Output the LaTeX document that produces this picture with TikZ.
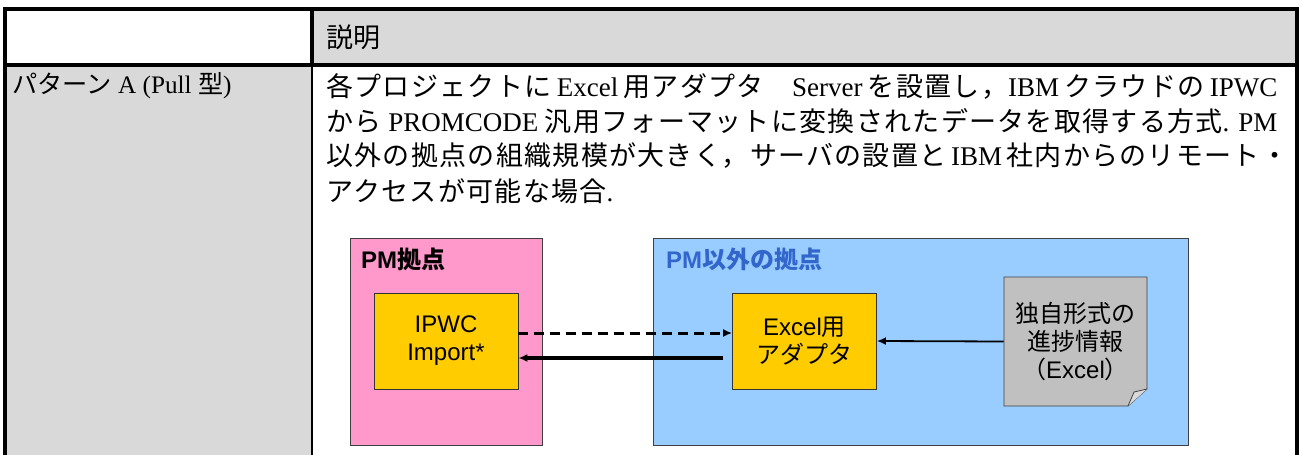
\documentclass[tikz,border=0pt]{standalone}
\usepackage{fontspec}
\setmainfont{Liberation Serif}
\setsansfont{Liberation Sans}
\newfontfamily\jp{Noto Sans CJK JP}
\newfontfamily\jpbody{Noto Sans CJK JP}[LetterSpace=4.8]
\usetikzlibrary{arrows.meta}
\tikzset{>=latex}
\usepackage{xcolor}
\definecolor{pmpink}{HTML}{FF99CC}
\definecolor{siteblue}{HTML}{99CCFF}
\definecolor{tooly}{HTML}{FFCC00}
\definecolor{docgray}{HTML}{C0C0C0}
\definecolor{cellgray}{HTML}{D9D9D9}
\definecolor{labelblue}{HTML}{3366CC}
\newcommand{\ja}[1]{{\jp #1}}
\newcommand{\jb}[1]{{\jpbody #1}}
\newlength{\bodyw}
\setlength{\bodyw}{475.5pt}
\tikzstyle{site}=[draw=black!75,thin,minimum height=103.5pt,inner sep=0]
\tikzstyle{site pm}=[site,fill=pmpink,minimum width=96pt]
\tikzstyle{site other}=[site,fill=siteblue,minimum width=267.5pt]
\tikzstyle{tool}=[draw=black!80,fill=tooly,minimum width=72pt,minimum height=48pt,inner sep=0,align=center,font=\sffamily\fontsize{12}{14}\selectfont]
\tikzstyle{site label}=[anchor=west,inner sep=0,font=\sffamily\bfseries\fontsize{12}{14}\selectfont]
\tikzstyle{body line}=[anchor=west,inner sep=0,font=\fontsize{13.5}{16}\selectfont]
\tikzstyle{connect}=[-{Latex[length=4.5pt,width=4pt]}]

\begin{document}
\begin{tikzpicture}[x=0.5pt,y=-0.5pt]
    \useasboundingbox (0,0) rectangle (1301,455);
    % TABLE CELLS
    \fill[white] (0,0) rectangle (1301,455);
    \fill[cellgray] (312,9) rectangle (1297,65);
    \fill[cellgray] (5,65) rectangle (312,455);
    \draw[line width=2pt] (5,455) -- (5,9) -- (1297,9) -- (1297,455);
    \draw[line width=1.6pt] (5,65) -- (1297,65);
    \draw[line width=1.6pt] (312,9) -- (312,65);
    \draw[line width=1pt] (312,65) -- (312,455);

    % TABLE TEXT
    \node[body line] (head) at (326,37) {\ja{説明}};
    \node[body line,font=\fontsize{12.6}{15}\selectfont] (pattern) at (12,86) {\ja{パターン} A (Pull \ja{型})};
    \node[body line] (line1) at (326,86) {\makebox[\bodyw][s]{\jb{各プロジェクトに} Excel \jb{用アダプタ　}Server \jb{を設置し，}IBM \jb{クラウドの} IPWC}};
    \node[body line] (line2) at (326,121) {\makebox[\bodyw][s]{\jb{から} PROMCODE \jb{汎用フォーマットに変換されたデータを取得する方式}. PM}};
    \node[body line] (line3) at (326,156) {\makebox[\bodyw][s]{\jb{以外の拠点の組織規模が大きく，サーバの設置と} IBM \jb{社内からのリモート・}}};
    \node[body line] (line4) at (326,191) {\jb{アクセスが可能な場合}.};

    % SITES
    \node[site pm] (pm) at (446,341.5) {};
    \node[site other] (other) at (920.5,341.5) {};
    \node[site label] at ([xshift=5.5pt,yshift=-11pt]pm.north west) {PM\ja{拠点}};
    \node[site label,labelblue] at ([xshift=6.5pt,yshift=-11pt]other.north west) {PM\ja{以外の拠点}};

    % TOOLS
    \node[tool] (ipwc) at (446,341) {IPWC\\Import*};
    \node[tool] (excel) at (804.5,341) {Excel\ja{用}\\\ja{アダプタ}};

    % DOCUMENT (folded corner)
    \filldraw[fill=docgray,draw=black!75] (1004,277) -- (1147,277) -- (1147,389) -- (1128,406) -- (1004,406) -- cycle;
    \filldraw[fill=docgray!60,draw=black!75] (1128,406) -- (1134,392) -- (1147,389);
    \node[inner sep=0,minimum width=71.5pt,minimum height=64.5pt,align=center,font=\sffamily\fontsize{12}{14}\selectfont] (doc) at (1075.5,341.5) {\ja{独自形式の}\\\ja{進捗情報}\\\ja{（}Excel\ja{）}};

    % DRAW EDGES
    \draw[connect,line width=1.5pt,dash pattern=on 5pt off 3pt] ([yshift=4pt]ipwc.east) -- ([yshift=4pt]excel.west);
    \draw[connect,line width=1.6pt] ([xshift=-4.5pt,yshift=-8.5pt]excel.west) -- ([yshift=-8.5pt]ipwc.east);
    \draw[connect,line width=0.9pt] (doc.west) -- (excel.east);
\end{tikzpicture}
\end{document}
